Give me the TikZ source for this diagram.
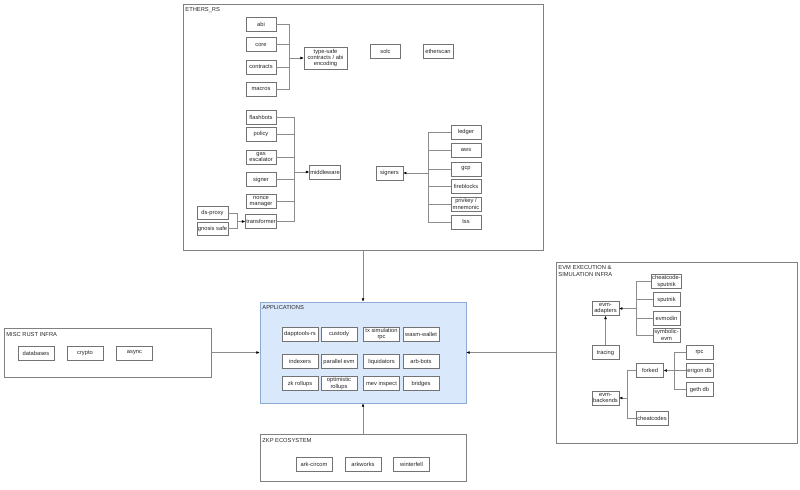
\documentclass[tikz,border=0pt]{standalone}
\usepackage{fontspec}
\setmainfont{Liberation Sans}
\usetikzlibrary{arrows.meta, fit}

\begin{document}
\begin{tikzpicture}[x=0.025cm, y=-0.025cm,
  box/.style={draw=black!55, fill=white, line width=0.35pt, minimum width=21pt, minimum height=10pt, inner sep=0.5pt, align=center, font=\fontsize{4.1}{4.6}\selectfont, text=black!85},
  app/.style={box, minimum width=25.5pt},
  narrow/.style={box, minimum width=19pt},
  frame/.style={draw=black!50, line width=0.45pt, inner sep=0pt},
  tag/.style={anchor=north west, inner sep=0.8pt, align=left, font=\fontsize{4.1}{4.7}\selectfont, text=black!85},
  wire/.style={draw=black!45, line width=0.35pt},
  arr/.style={wire, -{Latex[length=2.4pt, width=2pt, color=black]}}]
\useasboundingbox (0,0) rectangle (800,489);

% ethers-rs
\node[frame, fit={(183,4) (543,250)}] (ethers) {};
\node[tag] (ethersTag) at (184,6) {ETHERS\_RS};
\node[box] (abi) at (261,24) {abi};
\node[box] (core) at (261,44.5) {core};
\node[box] (contracts) at (261,67) {contracts};
\node[box] (macros) at (261,89) {macros};
\node[box, minimum width=30.5pt, minimum height=15.5pt] (typesafe) at (325.5,58) {type-safe\\contracts / abi\\encoding};
\node[box] (solc) at (385.5,51.5) {solc};
\node[box] (etherscan) at (438,51.5) {etherscan};
\coordinate (b1) at (289,58);
\foreach \n in {abi,core,contracts,macros} \draw[wire] (\n) -| (b1);
\draw[arr] (b1) -- (typesafe);

\node[box] (flashbots) at (261,117) {flashbots};
\node[box] (policy) at (261,134) {policy};
\node[box] (gas) at (261,157) {gas\\escalator};
\node[box] (signer) at (261,179.5) {signer};
\node[box] (nonce) at (261,201.5) {nonce\\manager};
\node[box] (transformer) at (261,221.5) {transformer};
\node[box] (middleware) at (325,172) {middleware};
\coordinate (b2) at (294,172);
\foreach \n in {flashbots,policy,gas,signer,nonce,transformer} \draw[wire] (\n) -| (b2);
\draw[arr] (b2) -- (middleware);

\node[box, minimum width=22pt, minimum height=9pt] (dsproxy) at (212.5,213) {ds-proxy};
\node[box, minimum width=22pt, minimum height=9pt] (gnosis) at (212.5,228.5) {gnosis safe};
\coordinate (b3) at (237,221.5);
\foreach \n in {dsproxy,gnosis} \draw[wire] (\n) -| (b3);
\draw[arr] (b3) -- (transformer);

\node[narrow] (signers) at (389.5,173) {signers};
\node[box] (ledger) at (466,132.5) {ledger};
\node[box] (aws) at (466,150) {aws};
\node[box] (gcp) at (466,169) {gcp};
\node[box] (fireblocks) at (466,186) {fireblocks};
\node[box] (privkey) at (466,204) {privkey /\\mnemonic};
\node[box] (tss) at (466,222) {tss};
\coordinate (b4) at (428,173);
\foreach \n in {ledger,aws,gcp,fireblocks,privkey,tss} \draw[wire] (\n) -| (b4);
\draw[arr] (b4) -- (signers);

% applications
\node[frame, draw={rgb,255:red,140;green,170;blue,210}, fill={rgb,255:red,218;green,232;blue,252}, fit={(260,302) (466,403)}] (apps) {};
\node[tag] (appsTag) at (261,304) {APPLICATIONS};
\node[app] (dapptools) at (300,334) {dapptools-rs};
\node[app] (custody) at (339,334) {custody};
\node[app] (txsim) at (381.5,334) {tx simulation\\rpc};
\node[app] (wasm) at (421,334) {wasm-wallet};
\node[app] (indexers) at (300,361.5) {indexers};
\node[app] (parallel) at (339,361.5) {parallel evm};
\node[app] (liquidators) at (381.5,361.5) {liquidators};
\node[app] (arbbots) at (421,361.5) {arb-bots};
\node[app] (zkrollups) at (300,383.5) {zk rollups};
\node[app] (oprollups) at (339,383.5) {optimistic\\rollups};
\node[app] (mev) at (381.5,383.5) {mev inspect};
\node[app] (bridges) at (421,383.5) {bridges};

% misc rust infra
\node[frame, fit={(4,328) (211,377)}] (misc) {};
\node[tag] (miscTag) at (5,331) {MISC RUST INFRA};
\node[app] (databases) at (36,353) {databases};
\node[app] (crypto) at (85,353) {crypto};
\node[app] (async) at (134.5,353) {async};

% zkp
\node[frame, fit={(260,434) (466,481)}] (zkp) {};
\node[tag] (zkpTag) at (261,437) {ZKP ECOSYSTEM};
\node[app] (arkcircom) at (314,464) {ark-circom};
\node[app] (arkworks) at (363,464) {arkworks};
\node[app] (winterfell) at (411.5,464) {winterfell};

% evm execution
\node[frame, fit={(556,262) (797,443)}] (evm) {};
\node[tag] (evmTag) at (557,264) {EVM EXECUTION \&\\SIMULATION INFRA};
\node[narrow] (adapters) at (605.5,308.5) {evm-\\adapters};
\node[narrow] (cheatsput) at (666.5,281.5) {cheatcode-\\sputnik};
\node[narrow] (sputnik) at (666.5,299.5) {sputnik};
\node[narrow] (evmodin) at (666.5,318) {evmodin};
\node[narrow] (symbolic) at (666.5,335) {symbolic-\\evm};
\coordinate (b5) at (636,308.5);
\foreach \n in {cheatsput,sputnik,evmodin,symbolic} \draw[wire] (\n) -| (b5);
\draw[arr] (b5) -- (adapters);
\node[narrow] (tracing) at (605.5,352.5) {tracing};
\draw[arr] (tracing) -- (adapters);

\node[narrow] (forked) at (650,370.5) {forked};
\node[narrow] (rpc) at (699.5,352.5) {rpc};
\node[narrow] (erigon) at (699.5,370.5) {erigon db};
\node[narrow] (geth) at (699.5,389.5) {geth db};
\coordinate (b6) at (674,370.5);
\foreach \n in {rpc,erigon,geth} \draw[wire] (\n) -| (b6);
\draw[arr] (b6) -- (forked);
\node[narrow] (backends) at (605.5,398) {evm-\\backends};
\node[box, minimum width=22.5pt] (cheatcodes) at (652,418) {cheatcodes};
\coordinate (b7) at (627,398);
\foreach \n in {forked,cheatcodes} \draw[wire] (\n) -| (b7);
\draw[arr] (b7) -- (backends);

% between groups
\draw[arr] (ethers) -- (apps);
\draw[arr] (misc) -- (apps);
\draw[arr] (evm) -- (apps);
\draw[arr] (zkp) -- (apps);
\end{tikzpicture}
\end{document}
